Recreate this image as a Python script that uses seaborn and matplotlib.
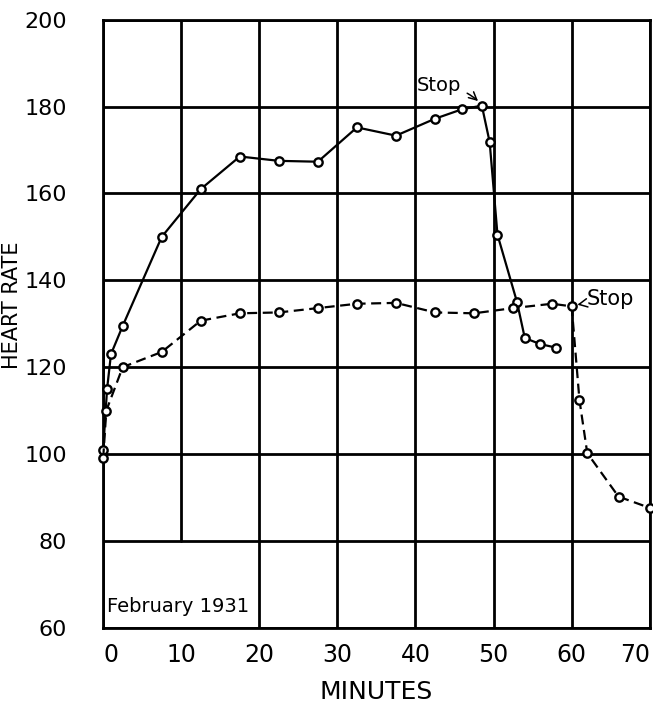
import numpy as np
import pandas as pd
import matplotlib
matplotlib.use("Agg")
import matplotlib.pyplot as plt
import seaborn as sns

# heart rate during and after exercise, February 1931
solid_min = [0, 0.5, 1, 2.5, 7.5, 12.5, 17.5, 22.5, 27.5, 32.5, 37.5, 42.5,
             46, 48.5, 49.5, 50.5, 53, 54, 56, 58]
solid_hr = [101, 115, 123, 129.5, 150, 161, 168.5, 167.5, 167.3, 175.2, 173.3, 177.2,
            179.4, 180.2, 171.8, 150.5, 135, 126.7, 125.3, 124.5]

dash_min = [0, 0.4, 2.5, 7.5, 12.5, 17.5, 22.5, 27.5, 32.5, 37.5, 42.5, 47.5,
            52.5, 57.5, 60, 61, 62, 66, 70]
dash_hr = [99, 110, 120, 123.5, 130.7, 132.4, 132.6, 133.6, 134.6, 134.8, 132.6, 132.4,
           133.6, 134.6, 134, 112.4, 100.2, 90.2, 87.6]

x_ticks = [0, 10, 20, 30, 40, 50, 60, 70]
y_ticks = [60, 80, 100, 120, 140, 160, 180, 200]

sns.set_style("white")
plt.rcParams['font.family'] = ['DejaVu Sans']
plt.rcParams['text.color'] = 'black'
plt.rcParams['axes.labelcolor'] = 'black'
plt.rcParams['xtick.color'] = 'black'
plt.rcParams['ytick.color'] = 'black'

fig = plt.figure(figsize=(6.53, 7.03), dpi=100)
ax = fig.add_axes([0.158, 0.107, 0.837, 0.865])

# grid, with the box for the date left open
for xv in x_ticks:
    if xv == 10:
        ax.axvline(xv, ymin=(80 - 60) / 140, ymax=1, color='black', lw=2, zorder=1)
    else:
        ax.axvline(xv, color='black', lw=2, zorder=1)
for yv in y_ticks:
    ax.axhline(yv, color='black', lw=2, zorder=1)

marker_kw = dict(marker='o', markersize=6, markerfacecolor='white',
                 markeredgecolor='black', markeredgewidth=1.7, clip_on=False)

df_solid = pd.DataFrame({'minutes': solid_min, 'rate': solid_hr})
df_dash = pd.DataFrame({'minutes': dash_min, 'rate': dash_hr})

sns.lineplot(data=df_solid, x='minutes', y='rate', ax=ax, color='black',
             linewidth=1.6, zorder=3, **marker_kw)
sns.lineplot(data=df_dash, x='minutes', y='rate', ax=ax, color='black',
             linewidth=1.6, linestyle=(0, (4.5, 2.5)), zorder=3, **marker_kw)

ax.set_xlim(0, 70)
ax.set_ylim(60, 200)
ax.set_xticks(x_ticks)
ax.set_yticks(y_ticks)
ax.set_xticklabels([str(v) for v in x_ticks], fontsize=17)
ax.set_yticklabels([str(v) for v in y_ticks], fontsize=16)
ax.tick_params(axis='x', length=0, pad=11)
ax.tick_params(axis='y', length=0, pad=26)
xl = ax.get_xticklabels()
xl[0].set_ha('left')
xl[-1].set_ha('right')
ax.set_xlabel('MINUTES', fontsize=18, labelpad=9)
ax.set_ylabel('HEART RATE', fontsize=15)
ax.yaxis.set_label_coords(-0.148, 0.53)

for sp in ax.spines.values():
    sp.set_color('black')
    sp.set_linewidth(2)

ax.annotate('Stop', xy=(48.4, 180.6), xytext=(40.2, 184.8), fontsize=14,
            va='center', ha='left',
            arrowprops=dict(arrowstyle='->', color='black', lw=1.1,
                            connectionstyle='arc3,rad=-0.2', shrinkB=3))
ax.annotate('Stop', xy=(60.2, 134.2), xytext=(61.9, 135.8), fontsize=15,
            va='center', ha='left',
            arrowprops=dict(arrowstyle='->', color='black', lw=1.1, shrinkB=3))

ax.text(0.5, 65, 'February 1931', fontsize=14, ha='left', va='center')

fig.savefig('out.png', dpi=100)
